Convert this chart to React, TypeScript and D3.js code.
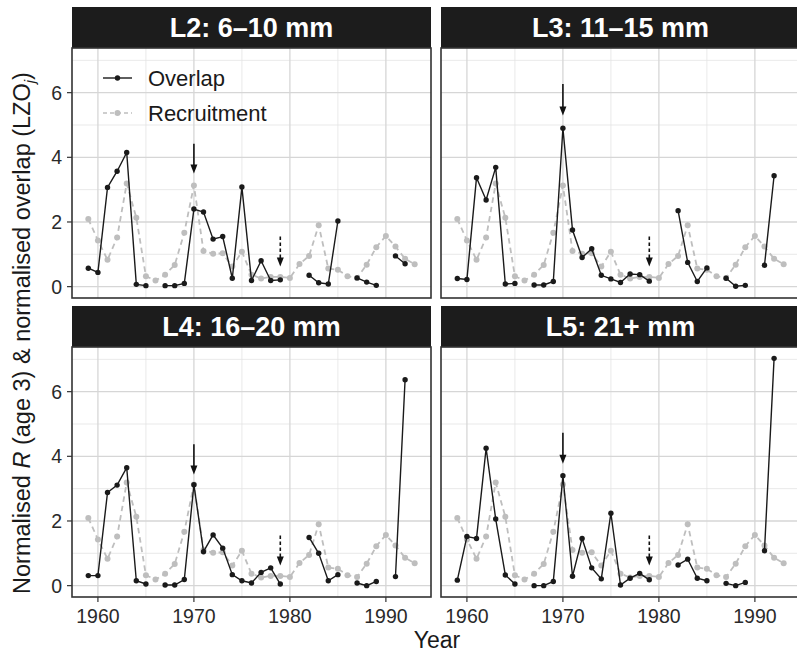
import React from 'react';
import * as d3 from 'd3';

const years = [1959, 1960, 1961, 1962, 1963, 1964, 1965, 1966, 1967, 1968, 1969, 1970, 1971, 1972, 1973, 1974, 1975, 1976, 1977, 1978, 1979, 1980, 1981, 1982, 1983, 1984, 1985, 1986, 1987, 1988, 1989, 1990, 1991, 1992, 1993];

const recruitment = [2.09, 1.43, 0.83, 1.52, 3.19, 2.13, 0.32, 0.19, 0.37, 0.67, 1.67, 3.13, 1.10, 1.02, 1.03, 0.62, 1.08, 0.37, 0.25, 0.30, 0.30, 0.27, 0.70, 0.95, 1.90, 0.56, 0.52, 0.32, 0.27, 0.68, 1.22, 1.57, 1.24, 0.86, 0.69];

const overlapL2 = [0.57, 0.44, 3.07, 3.57, 4.15, 0.07, 0.03, null, 0.03, 0.03, 0.10, 2.40, 2.31, 1.47, 1.55, 0.26, 3.08, 0.19, 0.80, 0.19, 0.21, null, null, 0.35, 0.12, 0.08, 2.03, null, 0.27, 0.14, 0.04, null, 0.95, 0.71, null];
const overlapL3 = [0.25, 0.22, 3.37, 2.68, 3.69, 0.08, 0.10, null, 0.05, 0.05, 0.16, 4.90, 1.75, 0.90, 1.17, 0.35, 0.24, 0.13, 0.39, 0.37, 0.17, null, null, 2.35, 0.75, 0.16, 0.58, null, 0.26, 0.01, 0.04, null, 0.66, 3.43, null];
const overlapL4 = [0.31, 0.31, 2.88, 3.11, 3.65, 0.15, 0.05, null, 0.02, 0.02, 0.19, 3.12, 1.05, 1.57, 1.16, 0.34, 0.15, 0.08, 0.41, 0.55, 0.05, null, null, 1.49, 1.00, 0.15, 0.34, null, 0.08, 0.00, 0.13, null, 0.28, 6.37, null];
const overlapL5 = [0.17, 1.52, 1.46, 4.25, 2.06, 0.33, 0.05, null, 0.00, 0.00, 0.13, 3.40, 0.29, 1.46, 0.55, 0.21, 2.24, 0.02, 0.23, 0.38, 0.18, null, null, 0.64, 0.82, 0.23, 0.15, null, 0.07, 0.00, 0.10, null, 1.08, 7.03, null];

const panelTitles = ['L2: 6\u201310 mm', 'L3: 11\u201315 mm', 'L4: 16\u201320 mm', 'L5: 21+ mm'];
const overlapSeries = [overlapL2, overlapL3, overlapL4, overlapL5];

const xMajorTicks = [1960, 1970, 1980, 1990];
const xMinorTicks = [1965, 1975, 1985];
const yMajorTicks = [0, 2, 4, 6];
const yMinorTicks = [1, 3, 5, 7];

const solidArrowYear = 1970;
const solidArrowFrom = [4.42, 6.27, 4.37, 4.73];
const solidArrowTo = [3.5, 5.29, 3.44, 3.77];
const dashedArrowYear = 1979;
const dashedArrowFrom = [1.55, 1.55, 1.55, 1.55];
const dashedArrowTo = [0.62, 0.62, 0.62, 0.62];

const legendLabels = ['Overlap', 'Recruitment'];

const FONT = '"Liberation Sans", Arial, Helvetica, sans-serif';

export default function App() {
  const W = 797;
  const H = 652;
  const panelW = 359;
  const panelH = 250;
  const lefts = [72, 441];
  const tops = [48, 347];
  const stripH = 41;

  const x = d3.scaleLinear().domain([1957.3, 1994.7]).range([0, panelW]);
  const allVals = [...recruitment, ...overlapSeries.flat()].filter((v) => v != null) as number[];
  const yMaxData = d3.max(allVals) as number;
  const yMinData = d3.min(allVals) as number;
  const pad = (yMaxData - yMinData) * 0.05;
  const y = d3.scaleLinear().domain([yMinData - pad, yMaxData + pad]).range([panelH, 0]);

  const line = d3
    .line<[number, number | null]>()
    .defined((d) => d[1] != null)
    .x((d) => x(d[0]))
    .y((d) => y(d[1] as number));

  const recPts: [number, number | null][] = years.map((yr, i) => [yr, recruitment[i]]);

  const arrowHead = (cx: number, tipY: number, w: number, h: number) =>
    `M${cx - w / 2},${tipY - h} L${cx + w / 2},${tipY - h} L${cx},${tipY} Z`;

  const panels = overlapSeries.map((series, idx) => {
    const col = idx % 2;
    const row = Math.floor(idx / 2);
    const left = lefts[col];
    const top = tops[row];
    const pts: [number, number | null][] = years.map((yr, i) => [yr, series[i]]);
    const ax = x(solidArrowYear);
    const dx = x(dashedArrowYear);
    return (
      <g key={idx}>
        <rect x={left} y={top - stripH} width={panelW} height={stripH} fill="#1c1c1c" />
        <text
          x={left + panelW / 2}
          y={top - stripH / 2 + 9.5}
          textAnchor="middle"
          fill="#ffffff"
          fontWeight="bold"
          fontSize={27}
          fontFamily={FONT}
        >
          {panelTitles[idx]}
        </text>
        <g transform={`translate(${left},${top})`}>
          <rect x={0} y={0} width={panelW} height={panelH} fill="#ffffff" />
          {yMinorTicks.map((t) => (
            <line key={'ym' + t} x1={0} x2={panelW} y1={y(t)} y2={y(t)} stroke="#e3e3e3" strokeWidth={0.8} />
          ))}
          {xMinorTicks.map((t) => (
            <line key={'xm' + t} x1={x(t)} x2={x(t)} y1={0} y2={panelH} stroke="#e3e3e3" strokeWidth={0.8} />
          ))}
          {yMajorTicks.map((t) => (
            <line key={'yM' + t} x1={0} x2={panelW} y1={y(t)} y2={y(t)} stroke="#d6d6d6" strokeWidth={1.3} />
          ))}
          {xMajorTicks.map((t) => (
            <line key={'xM' + t} x1={x(t)} x2={x(t)} y1={0} y2={panelH} stroke="#d6d6d6" strokeWidth={1.3} />
          ))}

          <path d={line(recPts) || ''} fill="none" stroke="#bebebe" strokeWidth={1.8} strokeDasharray="5.5 4" />
          {recPts.map((d, i) =>
            d[1] == null ? null : <circle key={'r' + i} cx={x(d[0])} cy={y(d[1] as number)} r={3} fill="#bebebe" />
          )}

          <path d={line(pts) || ''} fill="none" stroke="#1a1a1a" strokeWidth={1.4} />
          {pts.map((d, i) =>
            d[1] == null ? null : <circle key={'o' + i} cx={x(d[0])} cy={y(d[1] as number)} r={2.7} fill="#1a1a1a" />
          )}

          <line x1={ax} x2={ax} y1={y(solidArrowFrom[idx])} y2={y(solidArrowTo[idx]) - 7} stroke="#111" strokeWidth={1.6} />
          <path d={arrowHead(ax, y(solidArrowTo[idx]), 7, 9)} fill="#111" />
          <line
            x1={dx}
            x2={dx}
            y1={y(dashedArrowFrom[idx])}
            y2={y(dashedArrowTo[idx]) - 7}
            stroke="#111"
            strokeWidth={1.6}
            strokeDasharray="3.5 2.5"
          />
          <path d={arrowHead(dx, y(dashedArrowTo[idx]), 7, 9)} fill="#111" />

          <rect x={0} y={0} width={panelW} height={panelH} fill="none" stroke="#333" strokeWidth={1.6} />
        </g>
      </g>
    );
  });

  const lgX = lefts[0] + 31;
  const lgY1 = 78;
  const lgY2 = 113;

  return (
    <svg
      width={W}
      height={H}
      viewBox={`0 0 ${W} ${H}`}
      style={{ position: 'absolute', left: 0, top: 0, display: 'block', background: '#fff' }}
      fontFamily={FONT}
    >
      <rect x={0} y={0} width={W} height={H} fill="#ffffff" />
      {panels}

      <g>
        <line x1={lgX} x2={lgX + 29} y1={lgY1} y2={lgY1} stroke="#1a1a1a" strokeWidth={1.4} />
        <circle cx={lgX + 14.5} cy={lgY1} r={2.7} fill="#1a1a1a" />
        <text x={lefts[0] + 76} y={lgY1 + 7.5} fontSize={22} fill="#1a1a1a">
          {legendLabels[0]}
        </text>
        <line x1={lgX} x2={lgX + 29} y1={lgY2} y2={lgY2} stroke="#bebebe" strokeWidth={1.7} strokeDasharray="4 3" />
        <circle cx={lgX + 14.5} cy={lgY2} r={3} fill="#bebebe" />
        <text x={lefts[0] + 76} y={lgY2 + 7.5} fontSize={22} fill="#1a1a1a">
          {legendLabels[1]}
        </text>
      </g>

      {tops.map((top) => (
        <g key={'ya' + top} transform={`translate(${lefts[0]},${top})`}>
          {yMajorTicks.map((t) => (
            <g key={t}>
              <line x1={-5} x2={0} y1={y(t)} y2={y(t)} stroke="#333" strokeWidth={1.2} />
              <text x={-10} y={y(t) + 7} textAnchor="end" fontSize={19.5} fill="#2a2a2a">
                {t}
              </text>
            </g>
          ))}
        </g>
      ))}

      {lefts.map((left) => (
        <g key={'xa' + left} transform={`translate(${left},${tops[1] + panelH})`}>
          {xMajorTicks.map((t) => (
            <g key={t}>
              <line x1={x(t)} x2={x(t)} y1={0} y2={5} stroke="#333" strokeWidth={1.2} />
              <text x={x(t)} y={26} textAnchor="middle" fontSize={19.5} fill="#2a2a2a">
                {t}
              </text>
            </g>
          ))}
        </g>
      ))}

      <text x={437} y={648} textAnchor="middle" fontSize={23} fill="#1a1a1a">
        Year
      </text>
      <text transform="translate(30,333) rotate(-90)" textAnchor="middle" fontSize={23.5} fill="#1a1a1a">
        Normalised <tspan fontStyle="italic">R</tspan> (age 3) &amp; normalised overlap (LZO
        <tspan fontStyle="italic" fontSize={15} dy={5}>j</tspan>
        <tspan dy={-5}>)</tspan>
      </text>
    </svg>
  );
}
